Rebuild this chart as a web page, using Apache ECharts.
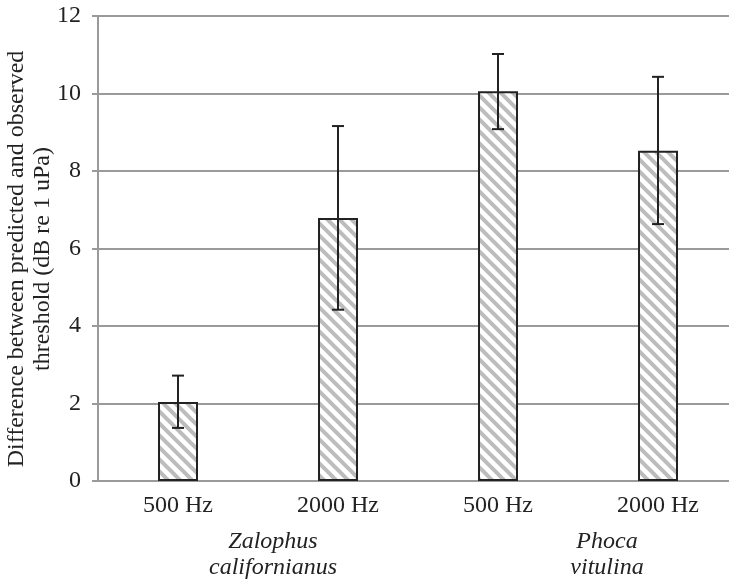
<!DOCTYPE html>
<html>
<head>
<meta charset="utf-8">
<script src="https://cdn.jsdelivr.net/npm/echarts@6/dist/echarts.min.js"></script>
<style>
    html, body { margin: 0; padding: 0; background: #fff; }
    #chart { width: 729px; height: 580px; }
</style>
</head>
<body>
<div id="chart"></div>
<script>
    // values
    var categories = ['500 Hz', '2000 Hz', '500 Hz', '2000 Hz']
    var means = [2.04, 6.79, 10.06, 8.52]
    var errLow = [1.37, 4.42, 9.08, 6.63]
    var errHigh = [2.72, 9.16, 11.02, 10.43]
    var yTicks = [0, 2, 4, 6, 8, 10, 12]
    var species = [
        { lines: 'Zalophus\ncalifornianus', x: 273 },
        { lines: 'Phoca\nvitulina', x: 607 }
    ]

    var serif = "'Liberation Serif', 'DejaVu Serif', serif"

    // diagonal hatch for the bars
    function hatch(){
        var n = 12
        var c = document.createElement('canvas')
        c.width = n
        c.height = n
        var ctx = c.getContext('2d')
        ctx.fillStyle = '#fff'
        ctx.fillRect(0, 0, n, n)
        ctx.strokeStyle = '#bcbcbc'
        ctx.lineWidth = 4
        for (var k = -n; k <= n; k += n){
            ctx.beginPath()
            ctx.moveTo(k - 4, -4)
            ctx.lineTo(k + n + 4, n + 4)
            ctx.stroke()
        }
        return c
    }

    var errData = categories.map(function(c, i){ return [i, errLow[i], errHigh[i]] })

    var chart = echarts.init(document.getElementById('chart'))
    chart.setOption({
        animation: false,
        backgroundColor: '#fff',
        grid: { left: 98, top: 16, bottom: 99, width: 640, containLabel: false, outerBoundsMode: 'none' },
        xAxis: {
            type: 'category',
            data: categories,
            axisLine: { lineStyle: { color: '#9a9a9a', width: 2 } },
            axisTick: { show: false },
            axisLabel: { color: '#222', fontFamily: serif, fontSize: 24, margin: 13 }
        },
        yAxis: {
            type: 'value',
            min: yTicks[0],
            max: yTicks[yTicks.length - 1],
            interval: 2,
            axisLine: { show: true, lineStyle: { color: '#9a9a9a', width: 2 } },
            axisTick: { show: true, length: 6, lineStyle: { color: '#9a9a9a', width: 2 } },
            splitLine: { lineStyle: { color: '#9a9a9a', width: 2 } },
            axisLabel: { color: '#222', fontFamily: serif, fontSize: 24, margin: 17 }
        },
        series: [
            {
                type: 'bar',
                data: means,
                barWidth: 40,
                itemStyle: {
                    color: { image: hatch(), repeat: 'repeat' },
                    borderColor: '#222',
                    borderWidth: 2
                }
            },
            {
                type: 'custom',
                data: errData,
                z: 10,
                renderItem: function(params, api){
                    var lo = api.coord([api.value(0), api.value(1)])
                    var hi = api.coord([api.value(0), api.value(2)])
                    var w = 6
                    var st = { stroke: '#222', lineWidth: 2 }
                    return {
                        type: 'group',
                        children: [
                            { type: 'line', shape: { x1: lo[0], y1: lo[1], x2: hi[0], y2: hi[1] }, style: st },
                            { type: 'line', shape: { x1: lo[0] - w, y1: lo[1], x2: lo[0] + w, y2: lo[1] }, style: st },
                            { type: 'line', shape: { x1: hi[0] - w, y1: hi[1], x2: hi[0] + w, y2: hi[1] }, style: st }
                        ]
                    }
                }
            }
        ],
        graphic: [
            {
                type: 'text',
                x: 30, y: 259,
                rotation: Math.PI / 2,
                style: {
                    text: 'Difference between predicted and observed\nthreshold (dB re 1 uPa)',
                    font: '24px ' + serif,
                    fill: '#222',
                    align: 'center',
                    verticalAlign: 'middle',
                    lineHeight: 26
                }
            }
        ].concat(species.map(function(s){
            return {
                type: 'text',
                x: s.x, y: 555,
                style: {
                    text: s.lines,
                    font: 'italic 24px ' + serif,
                    fill: '#222',
                    align: 'center',
                    verticalAlign: 'middle',
                    lineHeight: 26
                }
            }
        }))
    })
</script>
</body>
</html>
